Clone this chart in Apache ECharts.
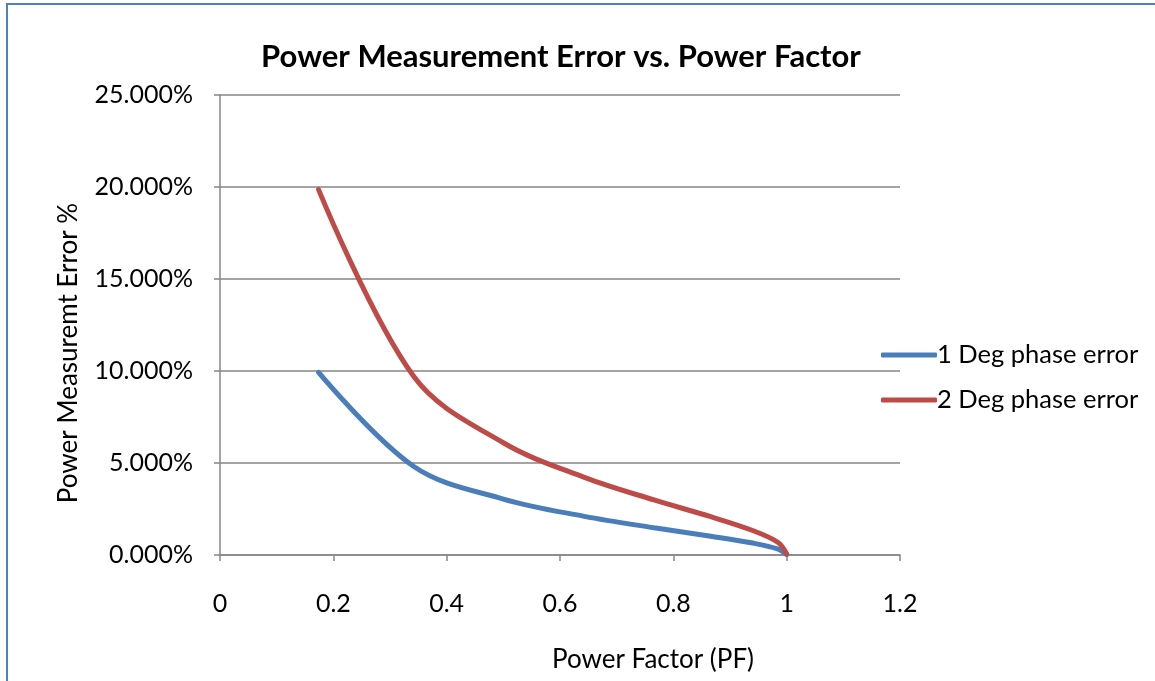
<!DOCTYPE html>
<html>
<head>
<meta charset="utf-8">
<script src="https://cdn.jsdelivr.net/npm/echarts@6/dist/echarts.min.js"></script>
<style>
html,body{margin:0;padding:0;background:#fff;}
#chart{width:1155px;height:681px;}
</style>
</head>
<body>
<div id="chart"></div>
<script>
// Power factor (x) values
const powerFactor = [0.174, 0.342, 0.5, 0.643, 0.766, 0.866, 0.940, 0.985, 1.0];
// Error (%)
const err1Deg = [9.92, 4.81, 3.04, 2.10, 1.48, 1.02, 0.65, 0.32, 0.02];
const err2Deg = [19.86, 9.70, 6.10, 4.22, 2.99, 2.08, 1.33, 0.68, 0.06];
const seriesNames = ['1 Deg phase error', '2 Deg phase error'];
const seriesColors = ['#4A7EBB', '#BE4B48'];
const titleText = 'Power Measurement Error vs. Power Factor';
const xTitle = 'Power Factor (PF)';
const yTitle = 'Power Measuremt Error %';

const font = 'Lato, "Open Sans", sans-serif';
const chart = echarts.init(document.getElementById('chart'));
const pairs = (ys) => powerFactor.map((x, i) => [x, ys[i]]);

chart.setOption({
  animation: false,
  backgroundColor: '#fff',
  title: {
    text: titleText,
    left: 556, top: 36, textAlign: 'center',
    textStyle: {fontFamily: font, fontWeight: 'bold', fontSize: 31, color: '#000'}
  },
  legend: {
    orient: 'vertical',
    left: 876, top: 337,
    itemWidth: 56, itemHeight: 5, itemGap: 19,
    icon: 'roundRect',
    textStyle: {fontFamily: font, fontSize: 25.5, color: '#000', padding: [0,0,0,-5]},
    data: seriesNames
  },
  grid: {left: 220, top: 95, width: 680, height: 460, containLabel: false, outerBoundsMode: 'none'},
  xAxis: {
    type: 'value', min: 0, max: 1.2, interval: 0.2,
    name: xTitle, nameLocation: 'middle', nameGap: 92,
    nameTextStyle: {fontFamily: font, fontSize: 26, color: '#000', padding: [0,0,0,186]},
    axisLine: {show: true, onZero: false, lineStyle: {color: '#868686', width: 1.5}},
    axisTick: {show: true, length: 6, inside: false, lineStyle: {color: '#868686', width: 1.5}},
    axisLabel: {fontFamily: font, fontSize: 25, color: '#000', margin: 36,
      formatter: v => String(Math.round(v*10)/10)},
    splitLine: {show: false}
  },
  yAxis: {
    type: 'value', min: 0, max: 25, interval: 5,
    name: yTitle, nameLocation: 'middle', nameGap: 138, nameRotate: 90,
    nameTextStyle: {fontFamily: font, fontSize: 26, color: '#000', padding: [0,56,0,0]},
    axisLine: {show: true, lineStyle: {color: '#868686', width: 1.5}},
    axisTick: {show: true, length: 6, lineStyle: {color: '#868686', width: 1.5}},
    axisLabel: {fontFamily: font, fontSize: 25, color: '#000', margin: 27,
      formatter: v => v.toFixed(3) + '%'},
    splitLine: {show: true, lineStyle: {color: '#868686', width: 1.5}}
  },
  graphic: [
    {type: 'line', shape: {x1: 7, y1: 4, x2: 7, y2: 681}, style: {stroke: '#4F81BD', lineWidth: 2}},
    {type: 'line', shape: {x1: 6, y1: 4, x2: 1155, y2: 4}, style: {stroke: '#4F81BD', lineWidth: 2}}
  ],
  series: [
    {name: seriesNames[0], type: 'line', data: pairs(err1Deg), smooth: 0.35,
     showSymbol: false, symbol: 'none', color: seriesColors[0],
     lineStyle: {width: 5, color: seriesColors[0], cap: 'round'}},
    {name: seriesNames[1], type: 'line', data: pairs(err2Deg), smooth: 0.35,
     showSymbol: false, symbol: 'none', color: seriesColors[1],
     lineStyle: {width: 5, color: seriesColors[1], cap: 'round'}}
  ]
});
</script>
</body>
</html>
